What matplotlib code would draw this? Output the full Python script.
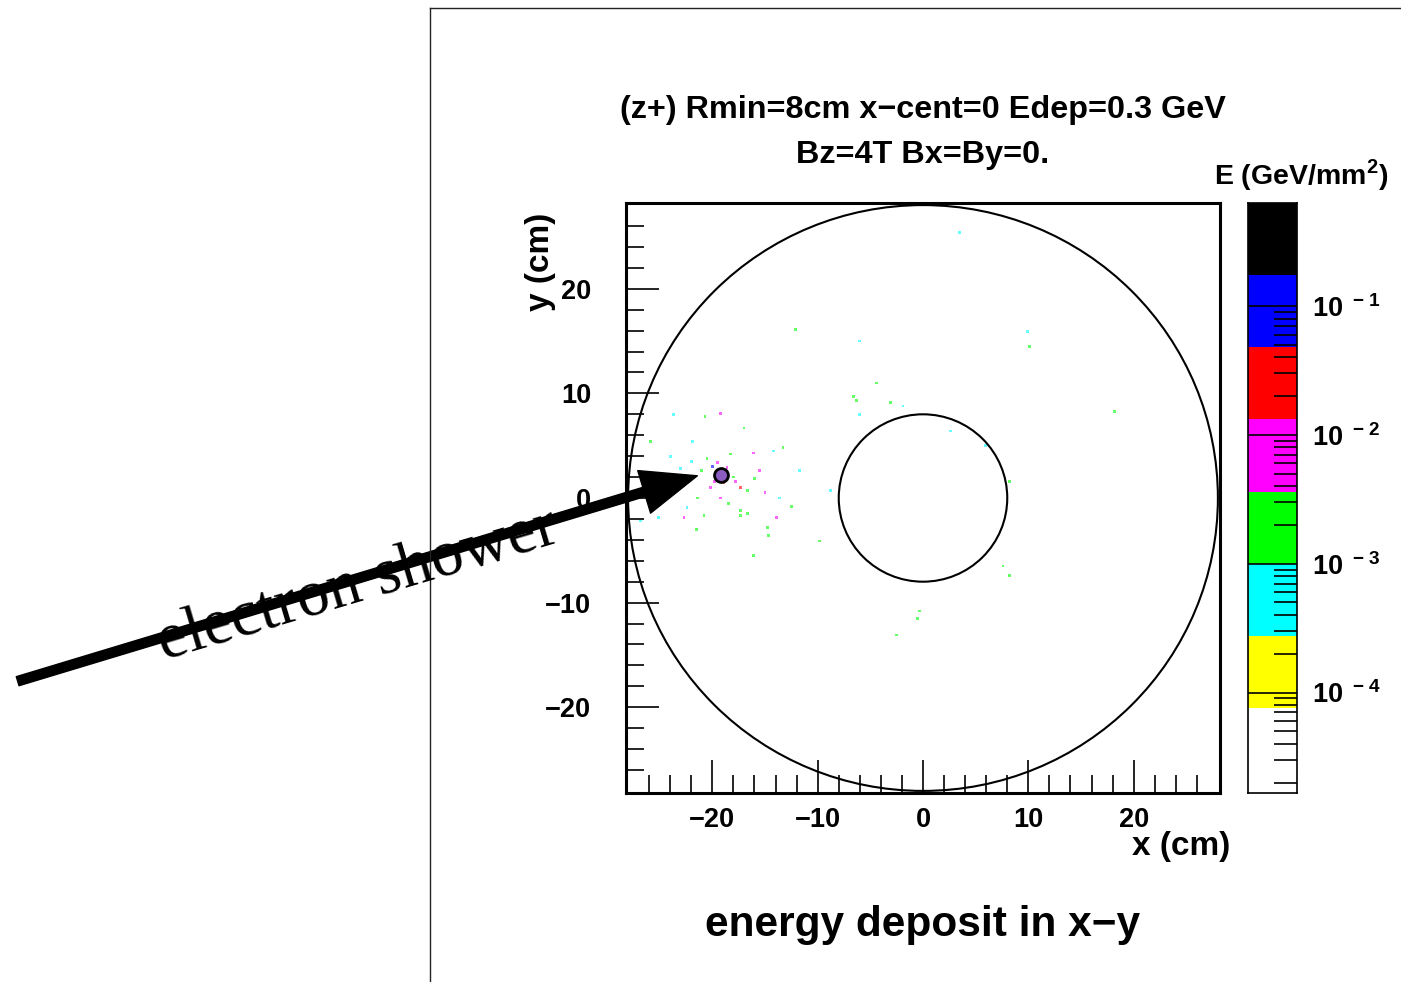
import numpy as np
import matplotlib
matplotlib.use('Agg')
import matplotlib.pyplot as plt
from matplotlib.colors import ListedColormap, BoundaryNorm
from matplotlib.patches import Circle, FancyArrowPatch
from matplotlib.lines import Line2D
from matplotlib.ticker import FixedLocator, FuncFormatter

plt.rcParams['font.family'] = ['Liberation Sans', 'DejaVu Sans']
plt.rcParams['font.weight'] = 'bold'
plt.rcParams['mathtext.fontset'] = 'custom'
plt.rcParams['mathtext.rm'] = 'Liberation Sans:bold'
plt.rcParams['mathtext.bf'] = 'Liberation Sans:bold'

# energy deposit hits (cm, GeV/mm^2)
hit_x = [-17.0, -18.3, -17.8, -17.3, -16.7, -21.0, -20.2, -20.5, -15.5, -16.1,
         -14.2, -13.3, -14.8, -13.9, -16.7, -17.3, -19.2, -21.4, -22.4, -23.0,
         -21.9, -23.7, -20.7, -19.2, -24.9, -25.1, -22.7, -20.8, -17.3, -14.7,
         -16.1, -13.6, -11.7, -8.8, -9.8, -6.6, -6.3, -3.1, -6.0, -1.9,
         -4.4, -12.1, -6.0, 10.1, 9.9, 3.5, 7.6, 8.2, -0.3, -0.5,
         18.2, 8.2, 5.9, 2.6, -2.5, -26.8, -25.9, -18.6, -19.8, -18.9,
         -20.0, -18.0, -19.5, -16.0, -22.0, -15.0, -12.5, -24.0, -18.5, -21.5]
hit_y = [6.7, 4.2, 1.6, 1.0, 0.7, 2.6, 1.0, 3.8, 2.6, 4.3,
         4.5, 4.8, -2.8, -1.9, -1.5, -1.2, 0.0, 0.0, -0.9, 2.8,
         5.4, 8.0, 7.8, 8.1, -0.3, -1.9, -1.9, -1.7, -1.7, -3.6,
         -5.5, 0.0, 2.6, 0.7, -4.1, 9.7, 9.3, 9.1, 8.0, 8.8,
         11.0, 16.1, 15.0, 14.5, 15.9, 25.4, -6.5, -7.4, -10.8, -11.5,
         8.3, 1.6, 5.0, 6.4, -13.1, -2.2, 5.4, 2.9, 1.6, 1.5,
         3.0, 2.0, 3.4, 1.9, 3.5, 0.5, -0.8, 4.0, -0.5, -3.0]
hit_e = [2e-3, 1.5e-3, 5e-3, 2e-2, 1e-3, 2e-3, 8e-3, 1e-3, 4e-3, 6e-3,
         3e-4, 1e-3, 2e-3, 5e-3, 1e-3, 2e-3, 6e-3, 1e-3, 3e-4, 8e-4,
         4e-4, 3e-4, 1e-3, 5e-3, 2e-3, 8e-4, 4e-3, 1e-3, 2e-3, 2e-3,
         1e-3, 3e-4, 3e-4, 3e-4, 1e-3, 2e-3, 1e-3, 2e-3, 8e-4, 3e-4,
         1e-3, 1e-3, 8e-4, 1e-3, 8e-4, 3e-4, 2e-3, 1e-3, 1e-3, 2e-3,
         1e-3, 1e-3, 8e-4, 3e-4, 1e-3, 8e-4, 1e-3, 6e-3, 5e-3, 2e-2,
         5e-2, 2e-3, 6e-3, 1e-3, 8e-4, 4e-3, 1e-3, 3e-4, 3e-3, 1e-3]

# shower core
hot_x = [-19.2]
hot_y = [2.2]

r_inner = 8.0
r_outer = 28.0

x_major = [-20, -10, 0, 10, 20]
y_major = [-20, -10, 0, 10, 20]
minor_ticks = list(range(-26, 27, 2))

level_exp = [-4.78, -4.12, -3.56, -3.0, -2.44, -1.88, -1.32, -0.76, -0.2]
level_colors = ['white', 'yellow', 'cyan', '#00ff00', 'magenta', 'red', 'blue', 'black']
cb_ticks = [1e-4, 1e-3, 1e-2, 1e-1]

W, H = 1401, 982
fig = plt.figure(figsize=(W / 100, H / 100), dpi=100)


def fx(px):
    return px / W


def fy(py):
    return 1 - py / H


# page frame
fig.add_artist(Line2D([fx(430), fx(430)], [fy(8), 0], transform=fig.transFigure, color='#222222', lw=1))
fig.add_artist(Line2D([fx(430), 1], [fy(8), fy(8)], transform=fig.transFigure, color='#222222', lw=1))

ax = fig.add_axes([fx(626), fy(793), fx(1220) - fx(626), fy(203) - fy(793)])
ax.set_xlim(-28.2, 28.2)
ax.set_ylim(-28.2, 28.2)

bounds = 10 ** np.array(level_exp)
cmap = ListedColormap(level_colors)
norm = BoundaryNorm(bounds, cmap.N)
ax.scatter(hit_x, hit_y, c=hit_e, cmap=cmap, norm=norm, s=4, marker='s', linewidths=0, alpha=0.6)
ax.plot(hot_x, hot_y, 'o', ms=10, mfc='#8a5cc0', mec='black', mew=2)

ax.add_patch(Circle((0, 0), r_outer, fill=False, ec='black', lw=1.5))
ax.add_patch(Circle((0, 0), r_inner, fill=False, ec='black', lw=1.5))

for s in ax.spines.values():
    s.set_linewidth(2.2)
ax.xaxis.set_major_locator(FixedLocator(x_major))
ax.yaxis.set_major_locator(FixedLocator(y_major))
ax.xaxis.set_minor_locator(FixedLocator(minor_ticks))
ax.yaxis.set_minor_locator(FixedLocator(minor_ticks))
ax.tick_params(which='both', direction='in', top=False, right=False, width=1.2, color='black')
ax.tick_params(which='major', length=24)
ax.tick_params(which='minor', length=13)
ax.tick_params(axis='x', which='major', pad=10, labelsize=19.5)
ax.tick_params(axis='y', which='major', pad=25, labelsize=19.5)

fig.text(fx(1230), fy(847), 'x (cm)', ha='right', va='center', fontsize=24, fontweight='bold')
fig.text(fx(540), fy(262), 'y (cm)', ha='center', va='center', rotation=90, fontsize=24, fontweight='bold')

fig.text(fx(923), fy(110), '(z+) Rmin=8cm x\u2212cent=0 Edep=0.3 GeV', ha='center', va='center',
         fontsize=23.3, fontweight='bold')
fig.text(fx(923), fy(155), 'Bz=4T Bx=By=0.', ha='center', va='center', fontsize=23.3, fontweight='bold')
fig.text(fx(923), fy(925), 'energy deposit in x\u2212y', ha='center', va='center', fontsize=30.5, fontweight='bold')
fig.text(fx(1214), fy(175), 'E (GeV/mm$^{2}$)', ha='left', va='center', fontsize=20.5, fontweight='bold')

# colour scale
cax = fig.add_axes([fx(1248), fy(793), fx(1297) - fx(1248), fy(203) - fy(793)])
cax.set_yscale('log')
cax.set_ylim(bounds[0], bounds[-1])
cax.set_xlim(0, 1)
for lo, hi, col in zip(bounds[:-1], bounds[1:], level_colors):
    cax.axhspan(lo, hi, color=col, lw=0)
for s in cax.spines.values():
    s.set_linewidth(1.2)
cax.set_xticks([])
cax.yaxis.tick_right()
cax.yaxis.set_major_locator(FixedLocator(cb_ticks))
cax.yaxis.set_major_formatter(FuncFormatter(lambda v, p: r'$10^{\ -%d}$' % round(-np.log10(v))))
cax.tick_params(axis='y', which='both', direction='in', width=1.2, color='black')
cax.tick_params(axis='y', which='major', length=35, pad=11, labelsize=19.5)
cax.tick_params(axis='y', which='minor', length=16.5)

# annotation arrow
fig.add_artist(FancyArrowPatch((fx(15), fy(682)), (fx(700), fy(475)), transform=fig.transFigure,
                               arrowstyle='simple,head_length=1.0,head_width=0.8,tail_width=0.17',
                               mutation_scale=40, color='black'))
fig.text(fx(358), fy(586), 'electron shower', family='Liberation Serif', fontweight='normal',
         fontsize=47, rotation=16.6, rotation_mode='anchor', ha='center', va='center')

fig.savefig('out.png', dpi=100, facecolor='white')
